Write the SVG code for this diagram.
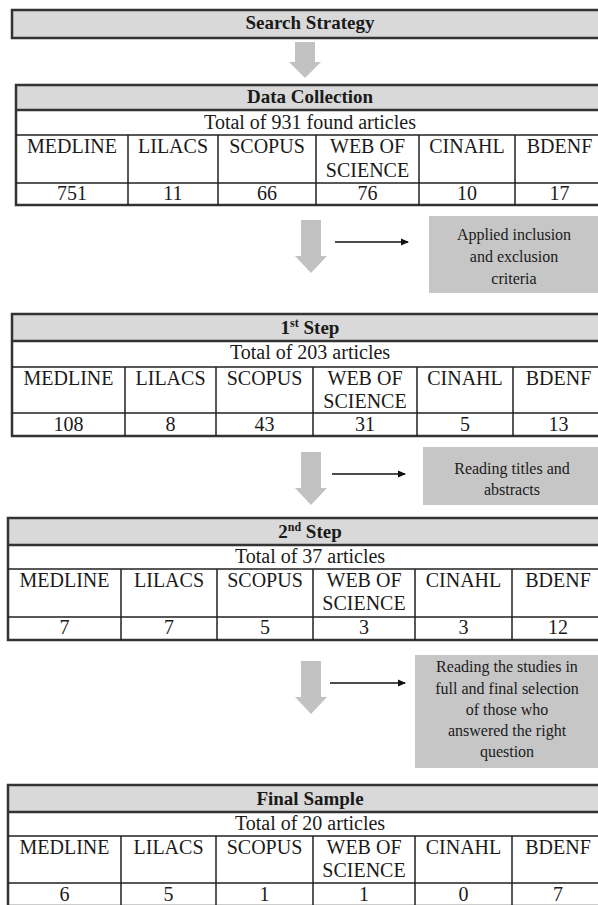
<svg xmlns="http://www.w3.org/2000/svg" width="598" height="905" viewBox="0 0 598 905" font-family="'Liberation Serif', 'DejaVu Serif', serif">
<defs>
<marker id="ah" markerWidth="8" markerHeight="8" refX="7" refY="4" orient="auto" markerUnits="userSpaceOnUse">
<path d="M0,0.5 L8,4 L0,7.5 Z" fill="#111"/>
</marker>
<style>
.t{font-family:'Liberation Serif','DejaVu Serif',serif;font-size:20px;text-anchor:middle;fill:#1a1a1a}
.h{font-weight:bold;font-size:19px}
.b{font-size:16px}
.hdr{fill:#d9d9d9}
.outer{fill:none;stroke:#333;stroke-width:2.5}
.g{stroke:#222;stroke-width:1.5;fill:none}
.gt{stroke:#333;stroke-width:2.5;fill:none}
.box{fill:#c6c6c6}
.darr{fill:#c2c2c2}
.harr{stroke:#111;stroke-width:1.5;fill:none;marker-end:url(#ah)}
</style>
</defs>
<rect width="598" height="905" fill="#fff"/>

<g id="search-strategy">
<rect x="12" y="10" width="592" height="28" class="hdr"/>
<rect x="12" y="10" width="592" height="28" class="outer"/>
<text class="t h" x="310" y="29">Search Strategy</text>
</g>

<g id="data-collection">
<rect x="16" y="85" width="588" height="25" class="hdr"/>
<rect x="16" y="85" width="588" height="120" class="outer"/>
<path class="gt" d="M16,110H604"/>
<path class="g" d="M16,135H604M16,183H604M128,135V205M218,135V205M316,135V205M419,135V205M515,135V205"/>
<text class="t h" x="310" y="103">Data Collection</text>
<text class="t" x="310" y="129">Total of 931 found articles</text>
<text class="t" x="72" y="153">MEDLINE</text>
<text class="t" x="173" y="153">LILACS</text>
<text class="t" x="267" y="153">SCOPUS</text>
<text class="t" x="367.5" y="153">WEB OF</text>
<text class="t" x="367.5" y="177">SCIENCE</text>
<text class="t" x="467" y="153">CINAHL</text>
<text class="t" x="559.5" y="153">BDENF</text>
<text class="t" x="72" y="200">751</text>
<text class="t" x="173" y="200">11</text>
<text class="t" x="267" y="200">66</text>
<text class="t" x="367.5" y="200">76</text>
<text class="t" x="467" y="200">10</text>
<text class="t" x="559.5" y="200">17</text>
</g>

<g id="criteria-box">
<rect x="429" y="216" width="175" height="77" class="box"/>
<text class="t b" x="514" y="240">Applied inclusion</text>
<text class="t b" x="514" y="262">and exclusion</text>
<text class="t b" x="514" y="284">criteria</text>
</g>

<g id="step1">
<rect x="12" y="314" width="592" height="27" class="hdr"/>
<rect x="12" y="314" width="592" height="122" class="outer"/>
<path class="gt" d="M12,341H604"/>
<path class="g" d="M12,367H604M12,413H604M125,367V436M216,367V436M313,367V436M417,367V436M513,367V436"/>
<text class="t h" x="310" y="334">1<tspan dy="-7" font-size="12">st</tspan><tspan dy="7"> Step</tspan></text>
<text class="t" x="310" y="359">Total of 203 articles</text>
<text class="t" x="68.5" y="385">MEDLINE</text>
<text class="t" x="170.5" y="385">LILACS</text>
<text class="t" x="264.5" y="385">SCOPUS</text>
<text class="t" x="365" y="385">WEB OF</text>
<text class="t" x="365" y="408">SCIENCE</text>
<text class="t" x="465" y="385">CINAHL</text>
<text class="t" x="558.5" y="385">BDENF</text>
<text class="t" x="68.5" y="431">108</text>
<text class="t" x="170.5" y="431">8</text>
<text class="t" x="264.5" y="431">43</text>
<text class="t" x="365" y="431">31</text>
<text class="t" x="465" y="431">5</text>
<text class="t" x="558.5" y="431">13</text>
</g>

<g id="titles-box">
<rect x="423" y="447" width="181" height="58" class="box"/>
<text class="t b" x="512" y="474">Reading titles and</text>
<text class="t b" x="512" y="495">abstracts</text>
</g>

<g id="step2">
<rect x="8" y="518" width="596" height="27" class="hdr"/>
<rect x="8" y="518" width="596" height="122" class="outer"/>
<path class="gt" d="M8,545H604"/>
<path class="g" d="M8,569H604M8,617H604M121,569V640M217,569V640M313,569V640M415,569V640M512,569V640"/>
<text class="t h" x="310" y="538">2<tspan dy="-7" font-size="12">nd</tspan><tspan dy="7"> Step</tspan></text>
<text class="t" x="310" y="563">Total of 37 articles</text>
<text class="t" x="64.5" y="587">MEDLINE</text>
<text class="t" x="169" y="587">LILACS</text>
<text class="t" x="265" y="587">SCOPUS</text>
<text class="t" x="364" y="587">WEB OF</text>
<text class="t" x="364" y="610">SCIENCE</text>
<text class="t" x="463.5" y="587">CINAHL</text>
<text class="t" x="558" y="587">BDENF</text>
<text class="t" x="64.5" y="634">7</text>
<text class="t" x="169" y="634">7</text>
<text class="t" x="265" y="634">5</text>
<text class="t" x="364" y="634">3</text>
<text class="t" x="463.5" y="634">3</text>
<text class="t" x="558" y="634">12</text>
</g>

<g id="fulltext-box">
<rect x="415" y="655" width="189" height="113" class="box"/>
<text class="t b" x="507" y="672">Reading the studies in</text>
<text class="t b" x="507" y="694">full and final  selection</text>
<text class="t b" x="507" y="715">of those who</text>
<text class="t b" x="507" y="736">answered the right</text>
<text class="t b" x="507" y="757">question</text>
</g>

<g id="final-sample">
<rect x="8" y="785" width="596" height="27" class="hdr"/>
<rect x="8" y="785" width="596" height="121" class="outer"/>
<path class="gt" d="M8,812H604"/>
<path class="g" d="M8,836H604M8,883H604M121,836V906M216,836V906M313,836V906M415,836V906M512,836V906"/>
<text class="t h" x="310" y="805">Final Sample</text>
<text class="t" x="310" y="830">Total of 20 articles</text>
<text class="t" x="64.5" y="854">MEDLINE</text>
<text class="t" x="168.5" y="854">LILACS</text>
<text class="t" x="264.5" y="854">SCOPUS</text>
<text class="t" x="364" y="854">WEB OF</text>
<text class="t" x="364" y="877">SCIENCE</text>
<text class="t" x="463.5" y="854">CINAHL</text>
<text class="t" x="558" y="854">BDENF</text>
<text class="t" x="64.5" y="901">6</text>
<text class="t" x="168.5" y="901">5</text>
<text class="t" x="264.5" y="901">1</text>
<text class="t" x="364" y="901">1</text>
<text class="t" x="463.5" y="901">0</text>
<text class="t" x="558" y="901">7</text>
</g>

<g id="connectors">
<polygon class="darr" points="295,42 315,42 315,62 321,62 305,78 289,62 295,62"/>
<polygon class="darr" points="301,220 321,220 321,256 327,256 311,273 295,256 301,256"/>
<polygon class="darr" points="301,452 321,452 321,488 327,488 311,505 295,488 301,488"/>
<polygon class="darr" points="301,661 321,661 321,697 327,697 311,714 295,697 301,697"/>
<path class="harr" d="M335,242H408"/>
<path class="harr" d="M332,474H405"/>
<path class="harr" d="M330,683H405"/>
</g>
</svg>
